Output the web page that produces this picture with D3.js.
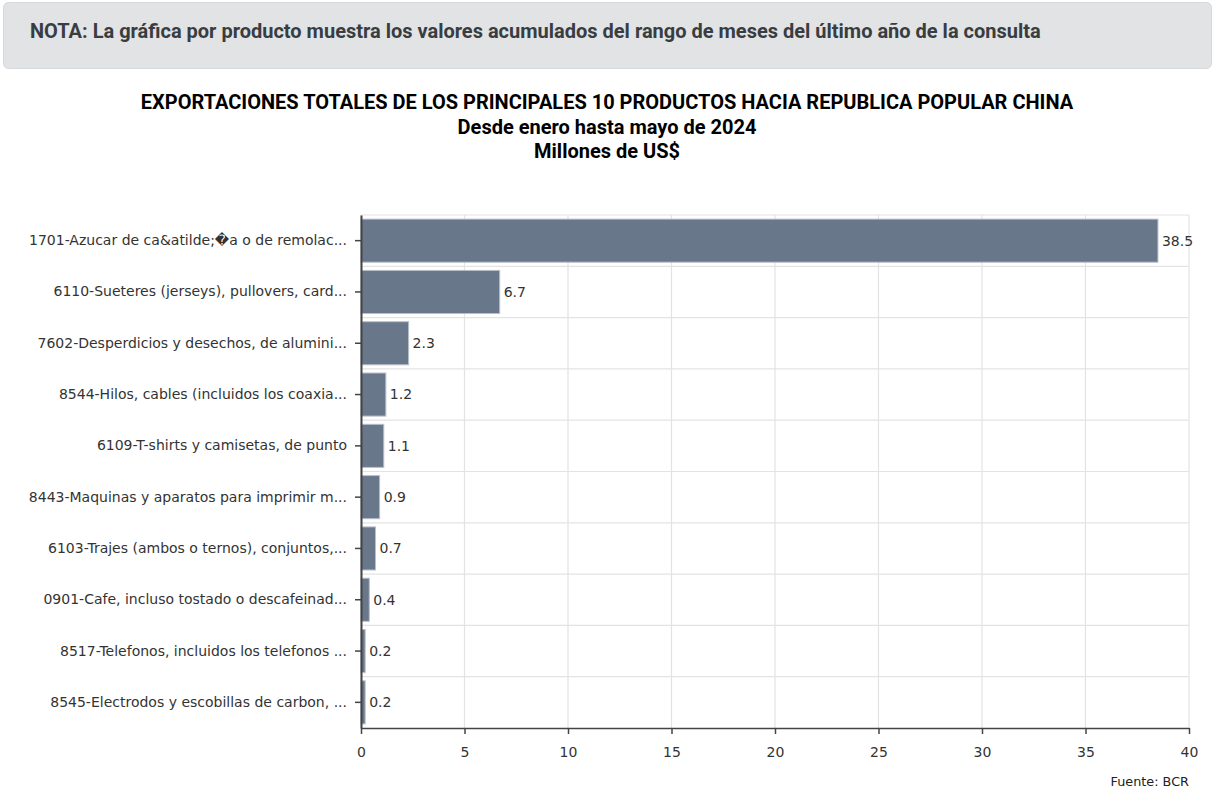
<!DOCTYPE html>
<html>
<head>
<meta charset="utf-8">
<script src="https://cdn.jsdelivr.net/npm/d3@7"></script>
<style>
  html, body { margin: 0; padding: 0; background: #fff; }
  svg { display: block; }
</style>
</head>
<body>
<svg id="chart" width="1213" height="789"></svg>
<script>
// Top 10 export products, Jan–May 2024 (millions of US$)
const categories = [
  "1701-Azucar de ca&atilde;\uFFFDa o de remolac...",
  "6110-Sueteres (jerseys), pullovers, card...",
  "7602-Desperdicios y desechos, de alumini...",
  "8544-Hilos, cables (incluidos los coaxia...",
  "6109-T-shirts y camisetas, de punto",
  "8443-Maquinas y aparatos para imprimir m...",
  "6103-Trajes (ambos o ternos), conjuntos,...",
  "0901-Cafe, incluso tostado o descafeinad...",
  "8517-Telefonos, incluidos los telefonos ...",
  "8545-Electrodos y escobillas de carbon, ..."
];
const values = [38.5, 6.7, 2.3, 1.2, 1.1, 0.9, 0.7, 0.4, 0.2, 0.2];
const xTicks = [0, 5, 10, 15, 20, 25, 30, 35, 40];

const noteText = "NOTA: La gráfica por producto muestra los valores acumulados del rango de meses del último año de la consulta";
const titleLines = [
  "EXPORTACIONES TOTALES DE LOS PRINCIPALES 10 PRODUCTOS HACIA REPUBLICA POPULAR CHINA",
  "Desde enero hasta mayo de 2024",
  "Millones de US$"
];
const sourceText = "Fuente: BCR";

const svg = d3.select("#chart");

// Note banner
svg.append("rect")
  .attr("x", 3.5).attr("y", 2.5).attr("width", 1208).attr("height", 66)
  .attr("rx", 5).attr("fill", "#e2e3e5").attr("stroke", "#d6d8db");
svg.append("text")
  .attr("x", 30).attr("y", 38)
  .attr("font-family", "Roboto, sans-serif").attr("font-weight", 700)
  .attr("font-size", 20).attr("fill", "#383d41")
  .text(noteText);

// Title block
svg.append("g").selectAll("text").data(titleLines).join("text")
  .attr("x", 607).attr("y", (d, i) => 109 + i * 24.5)
  .attr("text-anchor", "middle")
  .attr("font-family", "Roboto, sans-serif").attr("font-weight", 700)
  .attr("font-size", 20).attr("fill", "#000")
  .text(d => d);

const margin = { left: 361, right: 24, top: 215, bottom: 61 };
const W = 1213, H = 789;
const x = d3.scaleLinear().domain([0, 40]).range([margin.left, W - margin.right]);
const y = d3.scaleBand().domain(categories).range([margin.top, H - margin.bottom]).paddingInner(0.16).paddingOuter(0.08);

const fontFam = "'DejaVu Sans', Verdana, sans-serif";
const g = svg.append("g");

// Vertical gridlines
g.append("g").selectAll("line").data(xTicks).join("line")
  .attr("x1", d => x(d)).attr("x2", d => x(d))
  .attr("y1", margin.top).attr("y2", H - margin.bottom)
  .attr("stroke", "#e3e3e3").attr("stroke-width", 1.2);

// Horizontal gridlines at category boundaries
const step = (H - margin.bottom - margin.top) / categories.length;
const bounds = d3.range(0, categories.length).map(i => margin.top + i * step);
g.append("g").selectAll("line").data(bounds).join("line")
  .attr("x1", margin.left).attr("x2", x(40))
  .attr("y1", d => d).attr("y2", d => d)
  .attr("stroke", "#e3e3e3").attr("stroke-width", 1.2);

// Bars
g.append("g").selectAll("rect").data(values).join("rect")
  .attr("x", x(0))
  .attr("y", (d, i) => y(categories[i]))
  .attr("width", d => x(d) - x(0))
  .attr("height", y.bandwidth())
  .attr("fill", "#687789")
  .attr("stroke", "#b8c0ca").attr("stroke-width", 1);

// Value labels
g.append("g").selectAll("text").data(values).join("text")
  .attr("x", d => x(d) + 4)
  .attr("y", (d, i) => y(categories[i]) + y.bandwidth() / 2)
  .attr("dy", "0.35em")
  .attr("font-family", fontFam).attr("font-size", 14).attr("fill", "#333")
  .text(d => d.toFixed(1));

// Y axis
const yAxis = g.append("g")
  .attr("transform", `translate(${margin.left},0)`)
  .call(d3.axisLeft(y).tickSize(6).tickPadding(8).tickSizeOuter(0));
yAxis.select(".domain").attr("stroke", "#444").attr("stroke-width", 2);
yAxis.selectAll(".tick line").attr("stroke", "#444").attr("stroke-width", 1.5);
yAxis.selectAll(".tick text").attr("font-family", fontFam).attr("font-size", 14).attr("fill", "#333");

// X axis
const xAxis = g.append("g")
  .attr("transform", `translate(0,${H - margin.bottom})`)
  .call(d3.axisBottom(x).tickValues(xTicks).tickSize(6).tickPadding(13).tickSizeOuter(0));
xAxis.select(".domain").attr("stroke", "#444").attr("stroke-width", 1.5);
xAxis.selectAll(".tick line").attr("stroke", "#444").attr("stroke-width", 1.5);
xAxis.selectAll(".tick text").attr("font-family", fontFam).attr("font-size", 14).attr("fill", "#333");

// Source
svg.append("text")
  .attr("x", x(40)).attr("y", 786)
  .attr("text-anchor", "end")
  .attr("font-family", fontFam).attr("font-size", 12.8).attr("fill", "#222")
  .text(sourceText);
</script>
</body>
</html>
